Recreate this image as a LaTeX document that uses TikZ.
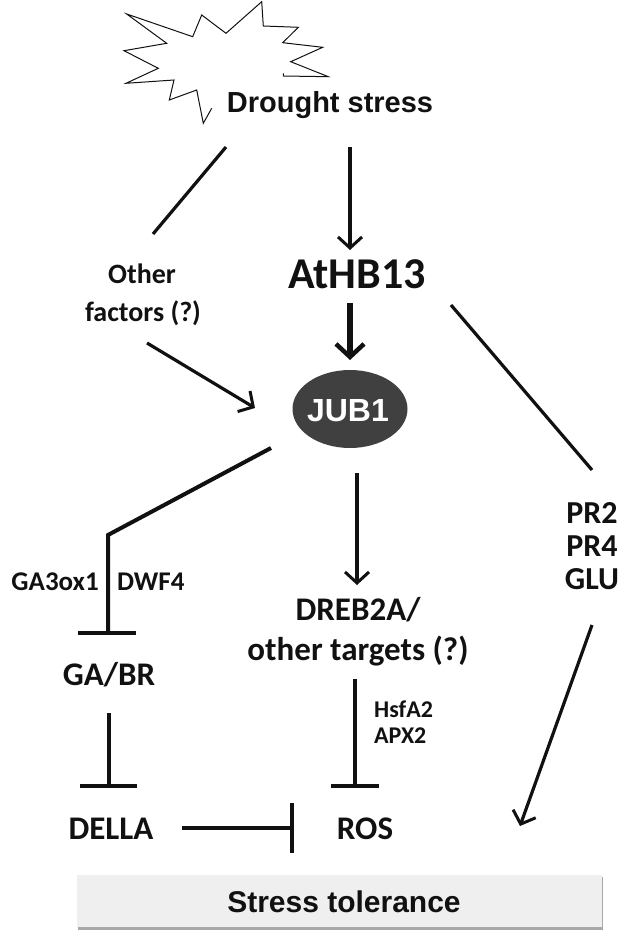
\documentclass[tikz,border=0pt]{standalone}
\usepackage{fontspec}
\usetikzlibrary{arrows.meta,shapes.geometric}
\newfontfamily\arialfont{Liberation Sans}
\newfontfamily\califont{Carlito}
\definecolor{boxgray}{HTML}{EFEFEF}
\definecolor{shadowgray}{HTML}{A8A8A8}
\definecolor{jubgray}{HTML}{404040}
\definecolor{inkc}{HTML}{111111}
\begin{document}
\begin{tikzpicture}[x=1pt,y=-1pt,
  lbl/.style={inner sep=0pt,anchor=base,text=inkc,font=\califont\bfseries},
  albl/.style={inner sep=0pt,anchor=base,text=inkc,font=\arialfont\bfseries},
  thinarrow/.style={draw=inkc,line width=3.2pt,-{Straight Barb[length=11pt,width=24pt,line width=3pt]}},
  thickarrow/.style={draw=inkc,line width=5.5pt,-{Straight Barb[length=13pt,width=28pt,line width=4.5pt]}},
  plainline/.style={draw=inkc,line width=3.2pt},
  inhib/.style={draw=inkc,line width=4pt},
]
\useasboundingbox (0,0) rectangle (632,947);
% starburst
\draw[line width=1pt,draw=inkc,line join=miter] (211.7,108.3) -- (203.3,123.3) -- (196.7,90) -- (169.3,100) -- (174,80) -- (126,83.3) -- (158.3,68.3) -- (124,50.7) -- (166.7,43.3) -- (126.7,14) -- (192.7,36.7) -- (201.7,15) -- (226,33.3) -- (261.7,1.7) -- (263.3,26) -- (298.3,27.3) -- (282.7,42.7) -- (322.7,47.3) -- (290.7,61.7) -- (328.3,76.7) -- (283.3,76) -- (283.3,73.3);
% texts
\node[albl,font=\arialfont\bfseries\fontsize{29}{31}\selectfont] (drought) at (330,113) {Drought stress};
\node[lbl,font=\califont\bfseries\fontsize{44}{46}\selectfont] (athb) at (357,288) {AtHB13};
\node[lbl,font=\califont\bfseries\fontsize{28}{30}\selectfont] (other1) at (142,283) {Other};
\node[lbl,font=\califont\bfseries\fontsize{28}{30}\selectfont] (other2) at (143,321) {factors (?)};
\node[ellipse,fill=jubgray,minimum width=115pt,minimum height=78pt,inner sep=0pt] (jub) at (350,409) {};
\node[albl,text=white,font=\arialfont\bfseries\fontsize{32}{34}\selectfont] (jubt) at (348,421) {JUB1};
\node[lbl,font=\califont\bfseries\fontsize{32}{34}\selectfont] (pr2) at (592,523) {PR2};
\node[lbl,font=\califont\bfseries\fontsize{32}{34}\selectfont] (pr4) at (592,556) {PR4};
\node[lbl,font=\califont\bfseries\fontsize{32}{34}\selectfont] (glu) at (592,589) {GLU};
\node[lbl,anchor=base east,font=\califont\bfseries\fontsize{27}{29}\selectfont] (ga3) at (99,590) {GA3ox1};
\node[lbl,anchor=base west,font=\califont\bfseries\fontsize{27}{29}\selectfont] (dwf) at (117,590) {DWF4};
\node[lbl,font=\califont\bfseries\fontsize{33}{35}\selectfont] (gabr) at (109,685) {GA/BR};
\node[lbl,font=\califont\bfseries\fontsize{33}{35}\selectfont] (della) at (111,839) {DELLA};
\node[lbl,font=\califont\bfseries\fontsize{33}{35}\selectfont] (ros) at (365,839) {ROS};
\node[lbl,font=\califont\bfseries\fontsize{33}{35}\selectfont] (dreb1) at (358,620) {DREB2A/};
\node[lbl,font=\califont\bfseries\fontsize{33}{35}\selectfont] (dreb2) at (358,660) {other targets (?)};
\node[lbl,anchor=base west,font=\califont\bfseries\fontsize{24}{26}\selectfont] (hsf) at (374,717) {HsfA2};
\node[lbl,anchor=base west,font=\califont\bfseries\fontsize{24}{26}\selectfont] (apx) at (374,743) {APX2};
% stress tolerance box
\fill[shadowgray] (78,877) rectangle (603,930);
\fill[boxgray] (77,875) rectangle (602,927);
\node[albl,font=\arialfont\bfseries\fontsize{30}{32}\selectfont] (tol) at (344,912) {Stress tolerance};
% connector coordinates
\coordinate (a1s) at (350,147); \coordinate (a1e) at (350,250);
\coordinate (l1s) at (226,147); \coordinate (l1e) at (153,234);
\coordinate (a2s) at (147,343); \coordinate (a2e) at (255,408);
\coordinate (a3s) at (350,303); \coordinate (a3e) at (350,360);
\coordinate (l2s) at (451,305); \coordinate (l2e) at (592,470);
\coordinate (a4s) at (592,625); \coordinate (a4e) at (520,826);
\coordinate (g1) at (271,448); \coordinate (g2) at (108,535); \coordinate (g3) at (108,633);
\coordinate (gb1) at (78,633); \coordinate (gb2) at (136,633);
\coordinate (t1s) at (109,713); \coordinate (t1e) at (109,786);
\coordinate (tb1) at (80,786); \coordinate (tb2) at (137,786);
\coordinate (d1s) at (182,828); \coordinate (d1e) at (292,828);
\coordinate (db1) at (292,803); \coordinate (db2) at (292,853);
\coordinate (a5s) at (357,473); \coordinate (a5e) at (357,585);
\coordinate (r1s) at (355,679); \coordinate (r1e) at (355,786);
\coordinate (rb1) at (331,786); \coordinate (rb2) at (379,786);
% connectors
\draw[thinarrow] (a1s) -- (a1e);
\draw[plainline] (l1s) -- (l1e);
\draw[thinarrow] (a2s) -- (a2e);
\draw[thickarrow] (a3s) -- (a3e);
\draw[plainline] (l2s) -- (l2e);
\draw[thinarrow] (a4s) -- (a4e);
\draw[inhib,line join=miter] (g1) -- (g2) -- (g3);
\draw[inhib] (gb1) -- (gb2);
\draw[inhib] (t1s) -- (t1e);
\draw[inhib] (tb1) -- (tb2);
\draw[inhib] (d1s) -- (d1e);
\draw[inhib] (db1) -- (db2);
\draw[thinarrow] (a5s) -- (a5e);
\draw[inhib] (r1s) -- (r1e);
\draw[inhib] (rb1) -- (rb2);
\end{tikzpicture}
\end{document}
